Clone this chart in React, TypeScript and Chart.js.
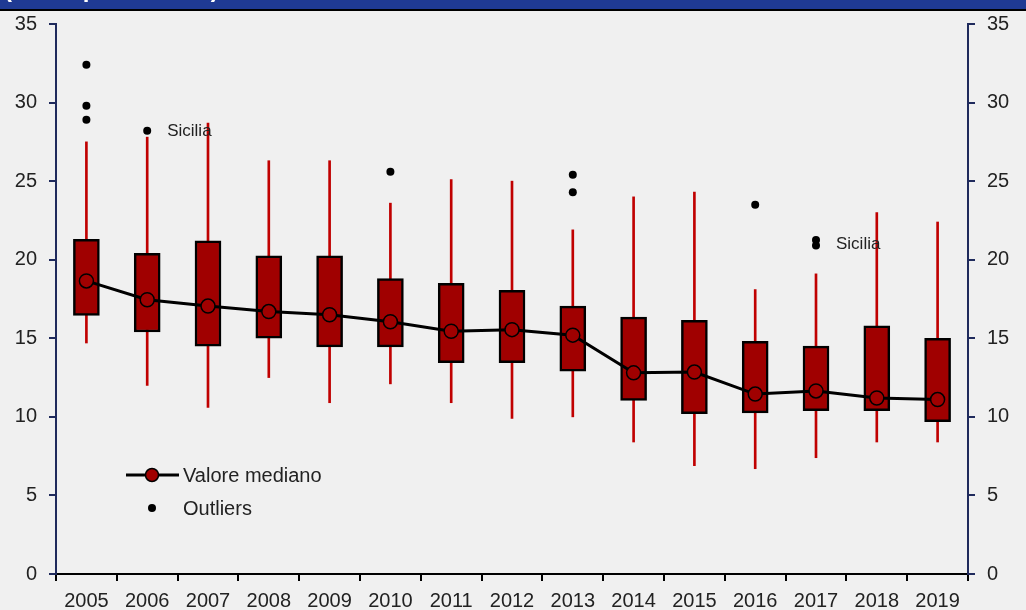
import React, { useEffect, useRef } from "react";
import { Chart, registerables } from "chart.js";

Chart.register(...registerables);

const years = ["2005", "2006", "2007", "2008", "2009", "2010", "2011", "2012", "2013", "2014", "2015", "2016", "2017", "2018", "2019"];
const whiskerMin = [14.7, 12.0, 10.6, 12.5, 10.9, 12.1, 10.9, 9.9, 10.0, 8.4, 6.9, 6.7, 7.4, 8.4, 8.4];
const whiskerMax = [27.5, 27.8, 28.7, 26.3, 26.3, 23.6, 25.1, 25.0, 21.9, 24.0, 24.3, 18.1, 19.1, 23.0, 22.4];
const q1 = [16.45, 15.4, 14.5, 15.0, 14.45, 14.45, 13.45, 13.45, 12.9, 11.05, 10.2, 10.25, 10.4, 10.4, 9.7];
const q3 = [21.3, 20.4, 21.2, 20.25, 20.25, 18.8, 18.5, 18.05, 17.05, 16.35, 16.15, 14.8, 14.5, 15.8, 15.0];
const median = [18.65, 17.45, 17.05, 16.7, 16.5, 16.05, 15.45, 15.55, 15.2, 12.8, 12.85, 11.45, 11.65, 11.2, 11.1];
const outlierYears = ["2005", "2005", "2005", "2006", "2010", "2013", "2013", "2016", "2017", "2017"];
const outlierValues = [32.4, 29.8, 28.9, 28.2, 25.6, 25.4, 24.3, 23.5, 21.25, 20.9];
const annotationYears = ["2006", "2017"];
const annotationValues = [28.2, 20.95];
const annotationText = "Sicilia";
const legendLabels = ["Valore mediano", "Outliers"];
const headerText = "(valori percentuali)";

const BG = "#F0F0F0";
const BOX = "#A00000";
const WHISKER = "#C00000";
const NAVY = "#1F2A5C";
const FONT = "'Liberation Sans', Arial, sans-serif";

export default function App() {
  const ref = useRef<HTMLCanvasElement | null>(null);

  useEffect(() => {
    if (!ref.current) return;

    const decor = {
      id: "decor",
      beforeDraw(chart: any) {
        const ctx = chart.ctx;
        ctx.save();
        ctx.fillStyle = BG;
        ctx.fillRect(0, 0, chart.width, chart.height);
        ctx.fillStyle = "#1F3A93";
        ctx.fillRect(0, 0, chart.width, 9);
        ctx.fillStyle = "#000";
        ctx.fillRect(0, 9, chart.width, 2);
        ctx.beginPath();
        ctx.rect(0, 0, chart.width, 9);
        ctx.clip();
        ctx.fillStyle = "#fff";
        ctx.font = `bold 24px ${FONT}`;
        ctx.textBaseline = "alphabetic";
        ctx.textAlign = "left";
        ctx.fillText(headerText, 4, -3);
        ctx.restore();
      },
      afterDraw(chart: any) {
        const ctx = chart.ctx;
        const xs = chart.scales.x;
        const ys = chart.scales.y;
        ctx.save();
        ctx.fillStyle = "#222";
        ctx.font = `17px ${FONT}`;
        ctx.textBaseline = "middle";
        ctx.textAlign = "left";
        annotationYears.forEach((yr, i) => {
          const px = xs.getPixelForValue(years.indexOf(yr)) + 20;
          const py = ys.getPixelForValue(annotationValues[i]);
          ctx.fillText(annotationText, px, py);
        });
        const lx = 152;
        const ly1 = 475;
        const ly2 = 508;
        ctx.strokeStyle = "#000";
        ctx.lineWidth = 3;
        ctx.beginPath();
        ctx.moveTo(126, ly1);
        ctx.lineTo(179, ly1);
        ctx.stroke();
        ctx.beginPath();
        ctx.arc(lx, ly1, 6.5, 0, Math.PI * 2);
        ctx.fillStyle = BOX;
        ctx.fill();
        ctx.lineWidth = 1.5;
        ctx.stroke();
        ctx.beginPath();
        ctx.arc(lx, ly2, 4, 0, Math.PI * 2);
        ctx.fillStyle = "#000";
        ctx.fill();
        ctx.fillStyle = "#222";
        ctx.font = `20px ${FONT}`;
        ctx.fillText(legendLabels[0], 183, ly1 + 1);
        ctx.fillText(legendLabels[1], 183, ly2 + 1);
        ctx.restore();
      },
    };

    const yAxisCommon = {
      min: 0,
      max: 35,
      ticks: { stepSize: 5, color: "#222", font: { family: FONT, size: 20 }, padding: 12 },
      grid: { drawOnChartArea: false, drawTicks: true, tickLength: 7, color: NAVY, lineWidth: 2 },
      border: { color: NAVY, width: 2 },
    };

    const chart = new Chart(ref.current, {
      type: "bar",
      data: {
        labels: years,
        datasets: [
          {
            type: "bar",
            label: "whisker",
            data: years.map((_, i) => [whiskerMin[i], whiskerMax[i]]),
            backgroundColor: WHISKER,
            borderWidth: 0,
            barThickness: 2,
            grouped: false,
            order: 4,
          } as any,
          {
            type: "bar",
            label: "box",
            data: years.map((_, i) => [q1[i], q3[i]]),
            backgroundColor: BOX,
            borderColor: "#000",
            borderWidth: 2.5,
            borderSkipped: false,
            barThickness: 26,
            grouped: false,
            order: 3,
          } as any,
          {
            type: "line",
            label: legendLabels[0],
            data: median,
            borderColor: "#000",
            borderWidth: 3,
            pointRadius: 7,
            pointBorderWidth: 1.5,
            pointBackgroundColor: BOX,
            pointBorderColor: "#000",
            tension: 0,
            order: 2,
          } as any,
          {
            type: "line",
            label: legendLabels[1],
            data: outlierYears.map((yr, i) => ({ x: yr, y: outlierValues[i] })),
            showLine: false,
            pointRadius: 4,
            pointBorderWidth: 0,
            pointBackgroundColor: "#000",
            order: 1,
          } as any,
        ],
      },
      options: {
        responsive: false,
        animation: false,
        devicePixelRatio: 1,
        layout: { padding: { top: 24, left: 0, right: 0, bottom: 0 } },
        plugins: { legend: { display: false }, tooltip: { enabled: false } },
        scales: {
          x: {
            type: "category",
            offset: true,
            grid: { offset: true, drawOnChartArea: false, drawTicks: true, tickLength: 7, color: "#000", lineWidth: 2 },
            border: { color: "#000", width: 2 },
            ticks: { color: "#222", font: { family: FONT, size: 20 }, padding: 8, maxRotation: 0, autoSkip: false },
            afterFit: (s: any) => {
              s.height = 36;
            },
          },
          y: {
            ...yAxisCommon,
            position: "left",
            afterFit: (s: any) => {
              s.width = 56;
            },
          },
          y2: {
            ...yAxisCommon,
            position: "right",
            afterFit: (s: any) => {
              s.width = 58;
            },
          },
        } as any,
      },
      plugins: [decor],
    });

    return () => chart.destroy();
  }, []);

  return (
    <div style={{ position: "fixed", left: 0, top: 0, width: 1026, height: 610, background: BG }}>
      <canvas ref={ref} width={1026} height={610} style={{ display: "block" }} />
    </div>
  );
}
